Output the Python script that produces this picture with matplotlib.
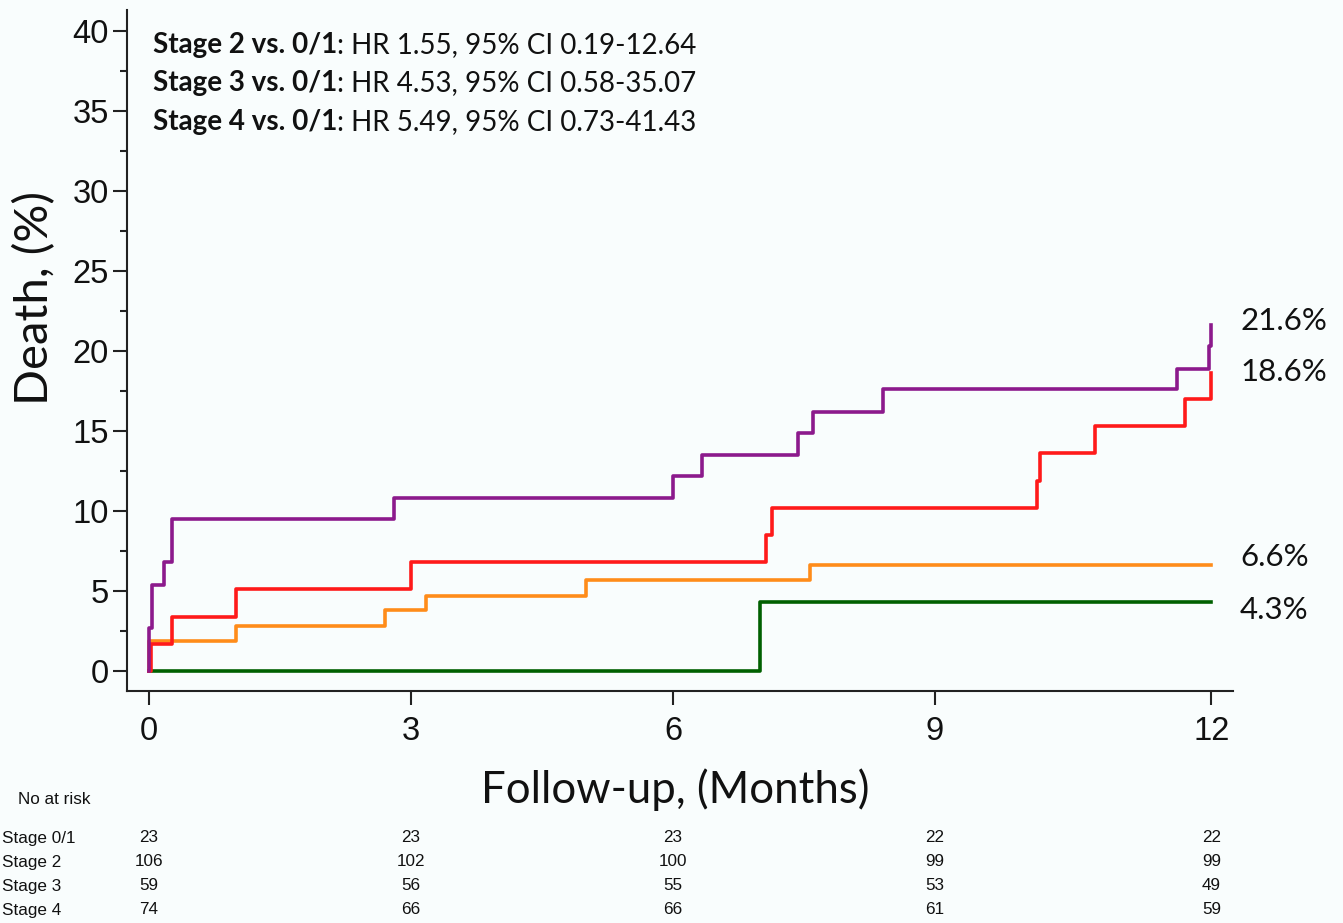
import matplotlib
matplotlib.use("Agg")
import matplotlib.pyplot as plt
from matplotlib.transforms import blended_transform_factory

# ---------------- data (time in days; axis labelled in months) ----------------
stage01_t = [0, 210, 365]
stage01_y = [0, 4.3, 4.3]
stage2_t = [0, 0, 30, 81, 95, 150, 227, 365]
stage2_y = [0, 1.9, 2.8, 3.8, 4.7, 5.7, 6.6, 6.6]
stage3_t = [0, 0.5, 8, 30, 90, 212, 214, 305, 306, 325, 356, 365]
stage3_y = [0, 1.7, 3.4, 5.1, 6.8, 8.5, 10.2, 11.9, 13.6, 15.3, 17.0, 18.6]
stage4_t = [0, 0, 1, 5, 8, 84, 180, 190, 223, 228, 252, 353, 364, 365]
stage4_y = [0, 2.7, 5.4, 6.8, 9.5, 10.8, 12.2, 13.5, 14.9, 16.2, 17.6, 18.9, 20.3, 21.6]

tick_days = [0, 90, 180, 270, 365]
tick_labels = ["0", "3", "6", "9", "12"]

end_labels = ["21.6%", "18.6%", "6.6%", "4.3%"]

hr_groups = ["Stage 2 vs. 0/1", "Stage 3 vs. 0/1", "Stage 4 vs. 0/1"]
hr_values = ["1.55", "4.53", "5.49"]
ci_low = ["0.19", "0.58", "0.73"]
ci_high = ["12.64", "35.07", "41.43"]

risk_groups = ["Stage 0/1", "Stage 2", "Stage 3", "Stage 4"]
risk_counts = [
    [23, 23, 23, 22, 22],
    [106, 102, 100, 99, 99],
    [59, 56, 55, 53, 49],
    [74, 66, 66, 61, 59],
]

# ---------------- figure ----------------
W, H = 1343, 923
DPI = 100
BG = "#F9FDFD"
fig = plt.figure(figsize=(W / DPI, H / DPI), dpi=DPI, facecolor=BG)

def fx(px):
    return px / W

def fy(py):
    return 1 - py / H

ax_left, ax_right, ax_top, ax_bot = 127, 1233, 10, 691
ax = fig.add_axes([fx(ax_left), fy(ax_bot), fx(ax_right - ax_left), (ax_bot - ax_top) / H])
ax.set_facecolor(BG)

colors = {
    "s01": "#006000",
    "s2": "#FF8C1A",
    "s3": "#FF1A1A",
    "s4": "#8C1A8C",
}
lw = 2.6
ax.step(stage01_t, stage01_y, where="post", color=colors["s01"], lw=lw, zorder=3)
ax.step(stage2_t, stage2_y, where="post", color=colors["s2"], lw=lw, zorder=4)
ax.step(stage3_t, stage3_y, where="post", color=colors["s3"], lw=lw, zorder=5)
ax.step(stage4_t, stage4_y, where="post", color=colors["s4"], lw=lw, zorder=6)

ax.set_xlim(-7.6, 372.4)
ax.set_ylim(-1.25, 41.3)

ax.set_xticks(tick_days)
ax.set_xticklabels(tick_labels)
ax.set_yticks(range(0, 41, 5))
ax.set_yticks([2.5 + 5 * i for i in range(8)], minor=True)

for s in ["top", "right"]:
    ax.spines[s].set_visible(False)
for s in ["left", "bottom"]:
    ax.spines[s].set_linewidth(1.5)
    ax.spines[s].set_color("#222222")

ax.tick_params(axis="both", which="major", direction="out", length=10, width=1.5,
               color="#222222", labelsize=23.5, labelcolor="#111111")
ax.tick_params(axis="x", which="major", pad=8)
ax.tick_params(axis="y", which="major", pad=3)
ax.tick_params(axis="y", which="minor", direction="out", length=5, width=1.5, color="#222222")
for lab in ax.get_xticklabels() + ax.get_yticklabels():
    lab.set_fontfamily("Liberation Sans")

# axis titles
fig.text(fx(35), fy(298), "Death, (%)", rotation=90, ha="center", va="center",
         fontsize=34, family="Lato", color="#111111")
fig.text(fx(675), fy(790), "Follow-up, (Months)", ha="center", va="center",
         fontsize=31.5, family="Lato", color="#111111")

# HR annotation
hr_y = [45, 83, 122]
for g, hr, lo, hi, py in zip(hr_groups, hr_values, ci_low, ci_high, hr_y):
    t1 = fig.text(fx(153), fy(py), g, ha="left", va="center", fontsize=20,
                  fontweight="bold", family="Lato", color="#111111")
    ax.annotate(f": HR {hr}, 95% CI {lo}-{hi}", xy=(1, 0), xycoords=t1,
                ha="left", va="bottom", fontsize=20, family="Lato", color="#111111",
                annotation_clip=False)

# end labels
end_y = [321, 372, 557, 610]
for lab, py in zip(end_labels, end_y):
    fig.text(fx(1240), fy(py), lab, ha="left", va="center", fontsize=22.5,
             family="Lato", color="#111111")

# risk table
fig.text(fx(18), fy(800), "No at risk", ha="left", va="center", fontsize=12.3,
         family="Liberation Sans", color="#111111")
trans = blended_transform_factory(ax.transData, fig.transFigure)
row_y = [838, 862, 886, 910]
for g, counts, py in zip(risk_groups, risk_counts, row_y):
    fig.text(fx(2), fy(py), g, ha="left", va="center", fontsize=12.3,
             family="Liberation Sans", color="#111111")
    for d, c in zip(tick_days, counts):
        fig.text(d, fy(py), str(c), transform=trans, ha="center", va="center",
                 fontsize=12.3, family="Liberation Sans", color="#111111")

fig.savefig("out.png", dpi=DPI, facecolor=BG)
